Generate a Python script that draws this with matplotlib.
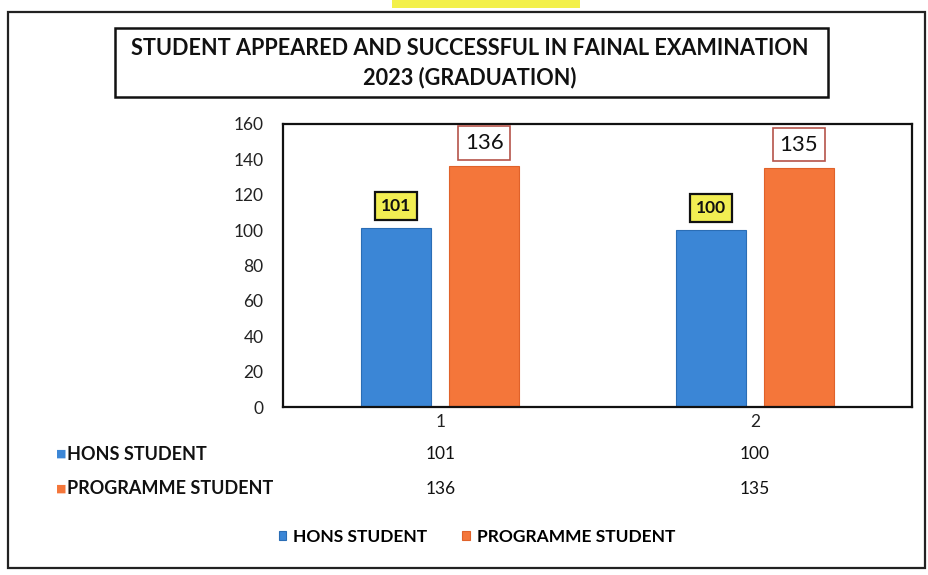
import numpy as np
import matplotlib
matplotlib.use("Agg")
import matplotlib.pyplot as plt
from matplotlib.patches import Rectangle
from matplotlib.transforms import blended_transform_factory

plt.rcParams['font.family'] = ['Lato', 'DejaVu Sans']

# data
categories = ['1', '2']
series_names = ['HONS STUDENT', 'PROGRAMME STUDENT']
hons = [101, 100]
programme = [136, 135]
colors = ['#3b86d6', '#f4763a']

W, H = 929, 575
fig = plt.figure(figsize=(W / 100, H / 100), dpi=100)


def px_rect(x0, y0, x1, y1):
    # pixel box (top-left origin) -> figure fraction rect
    return [x0 / W, 1 - y1 / H, (x1 - x0) / W, (y1 - y0) / H]


# outer frame + highlighter mark at the top
fig.patches.append(Rectangle((8 / W, 1 - 568 / H), 917 / W, 556 / H, transform=fig.transFigure,
                             fill=False, edgecolor='#222222', lw=1.6))
fig.patches.append(Rectangle((392 / W, 1 - 8 / H), 188 / W, 8 / H, transform=fig.transFigure,
                             facecolor='#f3f04a', edgecolor='none'))

# title box
fig.patches.append(Rectangle((115 / W, 1 - 97 / H), 713 / W, 69 / H, transform=fig.transFigure,
                             fill=False, edgecolor='#111111', lw=1.8))
fig.text(470 / W, 1 - 63 / H, 'STUDENT APPEARED AND SUCCESSFUL IN FAINAL EXAMINATION\n2023 (GRADUATION)',
         ha='center', va='center', fontsize=15.6, fontweight='bold', color='#111111', linespacing=1.45)

# plot area
ax = fig.add_axes(px_rect(283, 124, 912, 407))
x = np.arange(len(categories))
bw = 0.222
off = 0.14
b1 = ax.bar(x - off, hons, bw, color=colors[0], edgecolor='#2a6db5', lw=0.8, label=series_names[0])
b2 = ax.bar(x + off, programme, bw, color=colors[1], edgecolor='#e0622a', lw=0.8, label=series_names[1])

ax.set_xlim(-0.5, 1.5)
ax.set_ylim(0, 160)
ax.set_yticks(np.arange(0, 161, 20))
ax.set_xticks(x)
ax.set_xticklabels(categories)
ax.tick_params(axis='both', length=0, labelsize=12.5, colors='#222222')
ax.tick_params(axis='y', pad=14)
ax.tick_params(axis='x', pad=5)
for s in ax.spines.values():
    s.set_color('#111111')
    s.set_linewidth(1.6)

# data labels
for xi, v in zip(x - off, hons):
    ax.annotate(str(v), (xi, v), xytext=(0, 16), textcoords='offset points', ha='center', va='center',
                fontsize=12.5, fontweight='bold', color='#111111',
                bbox=dict(boxstyle='square,pad=0.35', facecolor='#f2ee52', edgecolor='#111111', lw=1.6))
for xi, v in zip(x + off, programme):
    ax.annotate(str(v), (xi, v), xytext=(0, 17), textcoords='offset points', ha='center', va='center',
                fontsize=16, color='#111111',
                bbox=dict(boxstyle='square,pad=0.3', facecolor='white', edgecolor='#b5544a', lw=1.2))

# data table under the axis
tr = blended_transform_factory(ax.transData, fig.transFigure)
row_y = [1 - 454 / H, 1 - 489 / H]
for vals, name, col, ry in zip([hons, programme], series_names, colors, row_y):
    fig.text(56 / W, ry, '\u25a0', color=col, fontsize=8, ha='left', va='center', family='DejaVu Sans')
    fig.text(67 / W, ry, name, fontsize=13, fontweight='bold', ha='left', va='center', color='#111111')
    for xi, v in zip(x, vals):
        ax.text(xi, ry, str(v), transform=tr, ha='center', va='center', fontsize=12.5, color='#111111')

# legend
fig.legend(handles=[b1, b2], labels=series_names, loc='center', bbox_to_anchor=(477 / W, 1 - 537 / H),
           ncol=2, frameon=False, prop={'size': 12.5, 'weight': 'bold'}, handlelength=0.45, handleheight=0.45,
           handletextpad=0.4, columnspacing=2.0)

plt.savefig('out.png', dpi=100)
